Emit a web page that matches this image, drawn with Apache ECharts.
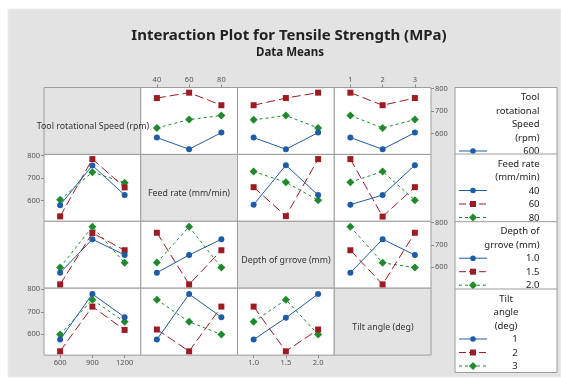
<!DOCTYPE html>
<html><head><meta charset="utf-8">
<script src="https://cdn.jsdelivr.net/npm/echarts@6/dist/echarts.min.js"></script>
<style>html,body{margin:0;padding:0;background:#fff}#c{width:561px;height:379px}</style>
</head><body><div id="c"></div>
<script>
// factor levels (x-axis tick values)
const speedLevels = [600, 900, 1200];
const feedLevels = [40, 60, 80];
const depthLevels = [1.0, 1.5, 2.0];
const tiltLevels = [1, 2, 3];
const yTicks = [600, 700, 800];
const factorNames = ['Tool rotational Speed (rpm)', 'Feed rate (mm/min)', 'Depth of grrove (mm)', 'Tilt angle (deg)'];

// means: each panel = [blue(level1), red(level2), green(level3)] of row factor, across column factor levels
// row 1: lines = tool speed 600 / 900 / 1200
const speed_by_feed  = [[582, 530, 604], [758, 782, 726], [625, 662, 680]];
const speed_by_depth = [[582, 530, 604], [726, 758, 782], [661, 680, 625]];
const speed_by_tilt  = [[582, 530, 604], [782, 726, 758], [680, 625, 662]];
// row 2: lines = feed 40 / 60 / 80
const feed_by_speed  = [[579, 756, 624], [529, 784, 658], [603, 726, 679]];
const feed_by_depth  = [[581, 757, 624], [659, 530, 784], [729, 681, 601]];
const feed_by_tilt   = [[581, 624, 757], [784, 528, 659], [681, 729, 601]];
// row 3: lines = depth 1.0 / 1.5 / 2.0
const depth_by_speed = [[576, 725, 655], [524, 753, 676], [599, 781, 620]];
const depth_by_feed  = [[576, 655, 725], [754, 524, 676], [621, 781, 599]];
const depth_by_tilt  = [[576, 725, 655], [676, 524, 754], [781, 620, 599]];
// row 4: lines = tilt 1 / 2 / 3
const tilt_by_speed  = [[576, 779, 676], [524, 723, 619], [599, 754, 655]];
const tilt_by_feed   = [[576, 779, 676], [621, 524, 723], [754, 655, 599]];
const tilt_by_depth  = [[576, 673, 779], [723, 524, 621], [655, 754, 599]];

const legendLevels = [['600'], ['40', '60', '80'], ['1.0', '1.5', '2.0'], ['1', '2', '3']];

const levels = [speedLevels, feedLevels, depthLevels, tiltLevels];
const xRanges = [[450, 1350], [30, 90], [0.75, 2.25], [0.5, 3.5]];
const panels = [
  [null, speed_by_feed, speed_by_depth, speed_by_tilt],
  [feed_by_speed, null, feed_by_depth, feed_by_tilt],
  [depth_by_speed, depth_by_feed, null, depth_by_tilt],
  [tilt_by_speed, tilt_by_feed, tilt_by_depth, null]
];

const FONT = 'Noto Sans';
const colors = ['#1f5ca6', '#9e1b22', '#1e8a2c'];
const symbols = ['circle', 'rect', 'diamond'];
const symSizes = [6, 6, 8];
const dashes = ['solid', [9, 4], [3, 3]];

const colL = [44, 140.75, 237.5, 334.25], colW = 96.75;
const rowT = [87.5, 154.4, 221.3, 288.2], rowH = 66.9;
const YMIN = 507, YMAX = 805;

const grids = [], xAxes = [], yAxes = [], series = [];
for (let r = 0; r < 4; r++) {
  for (let c = 0; c < 4; c++) {
    const gi = r * 4 + c;
    const diag = r === c;
    grids.push({left: colL[c], top: rowT[r], width: colW, height: rowH, show: true,
      backgroundColor: diag ? '#e3e3e3' : '#ffffff', borderColor: '#9c9c9c', borderWidth: 1});
    const showTop = r === 0 && (c === 1 || c === 3);
    const showBottom = r === 3 && (c === 0 || c === 2);
    const showX = showTop || showBottom;
    xAxes.push({type: 'value', gridIndex: gi, min: xRanges[c][0], max: xRanges[c][1],
      position: showTop ? 'top' : 'bottom',
      axisLine: {show: false}, splitLine: {show: false},
      axisTick: {show: showX, customValues: levels[c], length: 3, lineStyle: {color: '#8a8a8a'}},
      axisLabel: {show: showX, customValues: levels[c], fontSize: 7.5, color: '#555', margin: 4, fontFamily: FONT,
        formatter: v => c === 2 ? Number(v).toFixed(1) : String(v)}});
    const showLeft = c === 0 && (r === 1 || r === 3);
    const showRight = c === 3 && (r === 0 || r === 2);
    const showY = showLeft || showRight;
    yAxes.push({type: 'value', gridIndex: gi, min: YMIN, max: YMAX,
      position: showRight ? 'right' : 'left',
      axisLine: {show: false}, splitLine: {show: false},
      axisTick: {show: showY, customValues: yTicks, length: 3, lineStyle: {color: '#8a8a8a'}},
      axisLabel: {show: showY, customValues: yTicks, fontSize: 7.5, color: '#555', margin: 4, fontFamily: FONT}});
    if (!diag) {
      const p = panels[r][c];
      for (let k = 0; k < 3; k++) {
        series.push({type: 'line', xAxisIndex: gi, yAxisIndex: gi,
          data: levels[c].map((x, i) => [x, p[k][i]]),
          symbol: symbols[k], symbolSize: symSizes[k], showSymbol: true,
          itemStyle: {color: colors[k]},
          lineStyle: {color: colors[k], width: 1, type: dashes[k]},
          z: 3 - k, animation: false, silent: true});
      }
    }
  }
}

const graphics = [];
// outer gray background
graphics.push({type: 'rect', shape: {x: 8, y: 9, width: 553, height: 368}, style: {fill: '#e3e3e3', stroke: '#ececec'}, z: -10, silent: true});
// title
graphics.push({type: 'text', x: 289, y: 36, style: {text: 'Interaction Plot for Tensile Strength (MPa)', font: 'bold 15px "Noto Sans"', fill: '#222', textAlign: 'center', textVerticalAlign: 'middle'}});
graphics.push({type: 'text', x: 290, y: 53, style: {text: 'Data Means', font: 'bold 11.5px "Noto Sans"', fill: '#222', textAlign: 'center', textVerticalAlign: 'middle'}});
// diagonal labels
const diagPos = [[93, 126], [189, 193.5], [286, 260], [383, 327]];
for (let i = 0; i < 4; i++) {
  graphics.push({type: 'text', x: diagPos[i][0], y: diagPos[i][1], z: 10,
    style: {text: factorNames[i], font: '8.8px "Noto Sans"', fill: '#333', textAlign: 'center', textVerticalAlign: 'middle'}});
}
// legend
const LX = 455, LR = 557, secY = [87.5, 154, 221.7, 289, 372.5];
const secTitles = [['Tool', 'rotational', 'Speed', '(rpm)'], ['Feed rate', '(mm/min)'], ['Depth of', 'grrove (mm)'], ['Tilt', 'angle', '(deg)']];
const lineH = 13.5;
function legendSample(k, y) {
  const out = [];
  out.push({type: 'line', shape: {x1: 459, y1: y, x2: 487, y2: y}, style: {stroke: colors[k], lineWidth: 1, lineDash: k === 0 ? null : (k === 1 ? [7, 3] : [3, 3])}, z: 20});
  if (k === 0) out.push({type: 'circle', shape: {cx: 473, cy: y, r: 2.8}, style: {fill: colors[k]}, z: 21});
  else if (k === 1) out.push({type: 'rect', shape: {x: 470, y: y - 3, width: 6, height: 6}, style: {fill: colors[k]}, z: 21});
  else out.push({type: 'polygon', shape: {points: [[473, y - 4], [477, y], [473, y + 4], [469, y]]}, style: {fill: colors[k]}, z: 21});
  return out;
}
for (let s = 0; s < 4; s++) {
  graphics.push({type: 'rect', shape: {x: LX, y: secY[s], width: LR - LX, height: secY[s + 1] - secY[s]}, style: {fill: '#fff'}, z: 15 + s * 10});
  const t = secTitles[s];
  const centered = s === 3;
  let y = secY[s] + 10;
  t.forEach((txt, i) => {
    graphics.push({type: 'text', x: centered ? 506 : 539.5, y: y + i * lineH, z: 16 + s * 10,
      style: {text: txt, font: '9.5px "Noto Sans"', fill: '#222', textAlign: centered ? 'center' : 'right', textVerticalAlign: 'middle'}});
  });
  const y0 = y + t.length * lineH;
  legendLevels[s].forEach((lv, k) => {
    const yy = y0 + k * lineH;
    graphics.push({type: 'text', x: centered ? 515 : 539.5, y: yy, z: 16 + s * 10,
      style: {text: lv, font: '9.5px "Noto Sans"', fill: '#222', textAlign: centered ? 'center' : 'right', textVerticalAlign: 'middle'}});
    legendSample(k, yy - 0.5).forEach(g => { g.z = 17 + s * 10; graphics.push(g); });
  });
}
graphics.push({type: 'rect', shape: {x: LX, y: secY[0], width: LR - LX, height: secY[4] - secY[0]}, style: {fill: 'none', stroke: '#9c9c9c', lineWidth: 1}, z: 60});
for (let s = 1; s < 4; s++) {
  graphics.push({type: 'line', shape: {x1: LX, y1: secY[s], x2: LR, y2: secY[s]}, style: {stroke: '#9c9c9c', lineWidth: 1}, z: 60});
}

const chart = echarts.init(document.getElementById('c'), null, {renderer: 'canvas'});
chart.setOption({
  animation: false,
  backgroundColor: '#ffffff',
  textStyle: {fontFamily: FONT},
  grid: grids, xAxis: xAxes, yAxis: yAxes, series: series,
  graphic: graphics
});
</script></body></html>
